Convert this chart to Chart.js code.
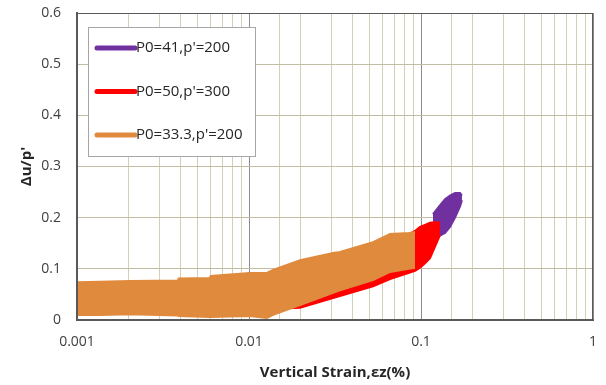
<!DOCTYPE html>
<html>
<head>
<meta charset="utf-8">
<script src="https://cdn.jsdelivr.net/npm/chart.js@4/dist/chart.umd.min.js"></script>
<style>
  body { margin: 0; background: #fff; }
  #wrap { width: 606px; height: 385px; }
</style>
</head>
<body>
<div id="wrap"><canvas id="myChart" width="606" height="385"></canvas></div>
<script>
// series names + colours (legend order)
const seriesNames = ["P0=41,p'=200", "P0=50,p'=300", "P0=33.3,p'=200"];
const seriesColors = ["#7030a0", "#ff0000", "#e08a3e"];

// each test is drawn as a band: strain values with upper / lower pore pressure ratio
const strainP41 = [0.1174, 0.1289, 0.1379, 0.1474, 0.1577, 0.1686, 0.173];
const upperP41 = [0.207, 0.224, 0.236, 0.243, 0.248, 0.248, 0.243];
const lowerP41 = [0.175, 0.165, 0.170, 0.182, 0.200, 0.222, 0.234];

const strainP50 = [0.001, 0.003, 0.006, 0.01, 0.0198, 0.0308, 0.0526, 0.0661, 0.0923, 0.0987, 0.1055, 0.1128, 0.1205, 0.1289];
const upperP50 = [0.050, 0.055, 0.060, 0.070, 0.090, 0.110, 0.130, 0.145, 0.174, 0.182, 0.186, 0.190, 0.191, 0.190];
const lowerP50 = [0.020, 0.020, 0.020, 0.020, 0.024, 0.043, 0.066, 0.080, 0.096, 0.102, 0.111, 0.121, 0.143, 0.166];

const strainP33 = [0.001, 0.00136, 0.00203, 0.00385, 0.0039, 0.0059, 0.006, 0.0101, 0.0127, 0.0138, 0.0198, 0.0308, 0.0338, 0.0526, 0.0661, 0.085, 0.0923];
const upperP33 = [0.074, 0.075, 0.076, 0.077, 0.081, 0.082, 0.086, 0.092, 0.092, 0.098, 0.117, 0.131, 0.133, 0.152, 0.168, 0.170, 0.172];
const lowerP33 = [0.010, 0.010, 0.011, 0.009, 0.008, 0.006, 0.006, 0.008, 0.004, 0.010, 0.029, 0.053, 0.058, 0.078, 0.094, 0.100, 0.102];

// axis ticks
const xTickValues = [0.001, 0.01, 0.1, 1];
const xTickLabels = ["0.001", "0.01", "0.1", "1"];
const yTickValues = [0, 0.1, 0.2, 0.3, 0.4, 0.5, 0.6];
const yTickLabels = ["0", "0.1", "0.2", "0.3", "0.4", "0.5", "0.6"];

const fontFamily = "'Open Sans', sans-serif";

function toPoints(xs, ys) {
    return xs.map((x, i) => ({ x: x, y: ys[i] }));
}

// upper edge + lower edge filled back to the upper one
function band(xs, up, low, color, order) {
    const common = {
        showLine: true,
        borderColor: color,
        borderWidth: 2,
        pointRadius: 0,
        tension: 0,
        order: order
    };
    return [
        { ...common, data: toPoints(xs, up), fill: false },
        { ...common, data: toPoints(xs, low), fill: '-1', backgroundColor: color }
    ];
}

function matchTick(list, v) {
    return list.findIndex(t => Math.abs(t - v) < t * 1e-6 + 1e-9);
}

// box legend + plot border
const plotExtras = {
    id: 'plotExtras',
    afterDraw(chart) {
        const ctx = chart.ctx;
        const a = chart.chartArea;
        ctx.save();
        ctx.strokeStyle = '#595959';
        ctx.lineWidth = 1;
        ctx.strokeRect(a.left + 0.5, a.top + 0.5, a.right - a.left - 1, a.bottom - a.top);

        const bx = a.left + 11, by = a.top + 14, bw = 167, bh = 129;
        ctx.fillStyle = '#fff';
        ctx.fillRect(bx, by, bw, bh);
        ctx.strokeStyle = '#a6a6a6';
        ctx.strokeRect(bx + 0.5, by + 0.5, bw, bh);

        ctx.font = '15px ' + fontFamily;
        ctx.textBaseline = 'middle';
        ctx.textAlign = 'left';
        seriesNames.forEach((name, i) => {
            const y = by + 21 + i * 43.5;
            ctx.strokeStyle = seriesColors[i];
            ctx.lineWidth = 5;
            ctx.lineCap = 'round';
            ctx.beginPath();
            ctx.moveTo(bx + 9, y);
            ctx.lineTo(bx + 47, y);
            ctx.stroke();
            ctx.fillStyle = '#262626';
            ctx.fillText(name, bx + 48, y);
        });
        ctx.restore();
    }
};

const ctx = document.getElementById('myChart').getContext('2d');
const myChart = new Chart(ctx, {
    type: 'scatter',
    data: {
        datasets: [
            ...band(strainP41, upperP41, lowerP41, seriesColors[0], 2),
            ...band(strainP50, upperP50, lowerP50, seriesColors[1], 1),
            ...band(strainP33, upperP33, lowerP33, seriesColors[2], 0)
        ]
    },
    options: {
        responsive: false,
        animation: false,
        devicePixelRatio: 1,
        layout: { padding: { top: 13, right: 13, left: 0, bottom: 0 } },
        plugins: {
            legend: { display: false },
            tooltip: { enabled: false }
        },
        scales: {
            x: {
                type: 'logarithmic',
                min: 0.001,
                max: 1,
                afterFit(scale) {
                    scale.height = 65;
                    scale.paddingLeft = 0;
                    scale.paddingRight = 0;
                },
                border: { display: true, color: '#595959', width: 2 },
                grid: {
                    drawTicks: false,
                    color(c) {
                        return matchTick(xTickValues, c.tick.value) >= 0 ? '#8c8c8c' : '#d3d0b8';
                    }
                },
                ticks: {
                    autoSkip: false,
                    maxRotation: 0,
                    padding: 14,
                    color: '#404040',
                    font: { family: fontFamily, size: 14 },
                    callback(v) {
                        const i = matchTick(xTickValues, v);
                        return i >= 0 ? xTickLabels[i] : '';
                    }
                },
                title: {
                    display: true,
                    text: 'Vertical Strain,εz(%)',
                    color: '#262626',
                    font: { family: fontFamily, size: 15, weight: 'bold' },
                    padding: { top: 0, bottom: 3 }
                }
            },
            y: {
                min: 0,
                max: 0.6,
                afterFit(scale) {
                    scale.width = 77;
                    scale.paddingTop = 0;
                    scale.paddingBottom = 0;
                },
                border: { display: true, color: '#595959', width: 2 },
                grid: { drawTicks: false, color: '#c2bea3' },
                ticks: {
                    stepSize: 0.1,
                    padding: 16,
                    color: '#404040',
                    font: { family: fontFamily, size: 14 },
                    callback(v) {
                        const i = matchTick(yTickValues, v);
                        return i >= 0 ? yTickLabels[i] : '';
                    }
                },
                title: {
                    display: true,
                    text: "Δu/p'",
                    color: '#262626',
                    font: { family: fontFamily, size: 15, weight: 'bold' },
                    padding: { top: 18, bottom: 0 }
                }
            }
        }
    },
    plugins: [plotExtras]
});
</script>
</body>
</html>
